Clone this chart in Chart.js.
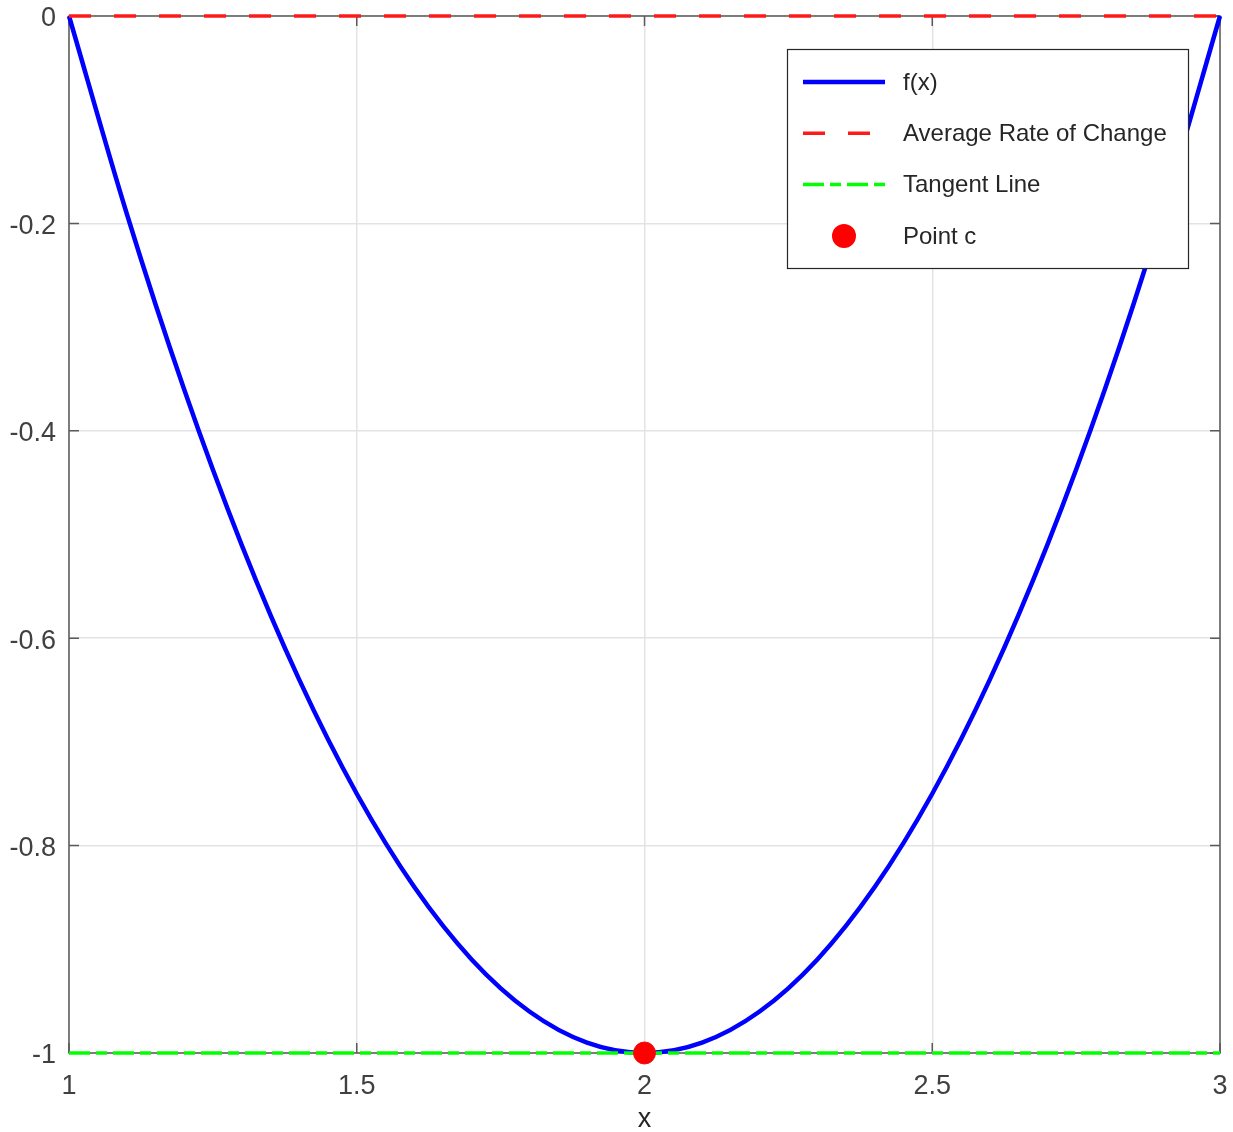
<!DOCTYPE html>
<html>
<head>
<meta charset="utf-8">
<title>f(x) with average rate of change and tangent line</title>
<script src="https://cdn.jsdelivr.net/npm/chart.js@4"></script>
<style>
  html, body { margin: 0; padding: 0; background: #fff; }
  canvas { display: block; }
</style>
</head>
<body>
<canvas id="plot" width="1233" height="1132"></canvas>
<script>
// values
const xValues = [1.0, 1.1, 1.2, 1.3, 1.4, 1.5, 1.6, 1.7, 1.8, 1.9, 2.0,
                 2.1, 2.2, 2.3, 2.4, 2.5, 2.6, 2.7, 2.8, 2.9, 3.0];
const fValues = [0, -0.19, -0.36, -0.51, -0.64, -0.75, -0.84, -0.91, -0.96, -0.99, -1,
                 -0.99, -0.96, -0.91, -0.84, -0.75, -0.64, -0.51, -0.36, -0.19, 0];

const avgX = [1, 3];
const avgY = [0, 0];

const tanX = [1, 3];
const tanY = [-1, -1];

const pointX = [2];
const pointY = [-1];

const xTicks = [1, 1.5, 2, 2.5, 3];
const yTicks = [0, -0.2, -0.4, -0.6, -0.8, -1];

const labels = ['f(x)', 'Average Rate of Change', 'Tangent Line', 'Point c'];

const FONT = "'Liberation Sans', Arial, Helvetica, sans-serif";
const TEXT = '#262626';
const AXIS = '#5a5a5a';

function pairs(xs, ys) {
  return xs.map((x, i) => ({ x: x, y: ys[i] }));
}

//////////////////////////// box + inward ticks (drawn under the data) ////////////////////////////
const boxPlugin = {
  id: 'box',
  beforeDatasetsDraw(chart) {
    const { ctx, chartArea: a, scales } = chart;
    const len = 10;
    ctx.save();
    ctx.strokeStyle = AXIS;
    ctx.lineWidth = 1.5;
    ctx.strokeRect(a.left, a.top, a.right - a.left, a.bottom - a.top);
    ctx.beginPath();
    xTicks.forEach(v => {
      const px = scales.x.getPixelForValue(v);
      ctx.moveTo(px, a.bottom); ctx.lineTo(px, a.bottom - len);
      ctx.moveTo(px, a.top); ctx.lineTo(px, a.top + len);
    });
    yTicks.forEach(v => {
      const py = scales.y.getPixelForValue(v);
      ctx.moveTo(a.left, py); ctx.lineTo(a.left + len, py);
      ctx.moveTo(a.right, py); ctx.lineTo(a.right - len, py);
    });
    ctx.stroke();
    ctx.restore();
  }
};

//////////////////////////// legend box in the upper right ////////////////////////////
const legendPlugin = {
  id: 'boxLegend',
  afterDraw(chart) {
    const ctx = chart.ctx;
    const left = 787, top = 49, w = 401, h = 219;
    const rowH = 51.3, firstRow = top + 33;
    const lineX0 = left + 16, lineX1 = left + 98, textX = left + 116;
    ctx.save();
    ctx.fillStyle = '#fff';
    ctx.fillRect(left, top, w, h);
    ctx.strokeStyle = TEXT;
    ctx.lineWidth = 1.2;
    ctx.strokeRect(left + 0.5, top + 0.5, w, h);
    chart.data.datasets.forEach((ds, i) => {
      const y = firstRow + i * rowH;
      if (ds.showLine === false) {
        ctx.beginPath();
        ctx.fillStyle = ds.pointBackgroundColor;
        ctx.arc((lineX0 + lineX1) / 2, y, 12, 0, Math.PI * 2);
        ctx.fill();
      } else {
        ctx.beginPath();
        ctx.strokeStyle = ds.borderColor;
        ctx.lineWidth = ds.borderWidth;
        ctx.setLineDash(ds.borderDash || []);
        ctx.moveTo(lineX0, y);
        ctx.lineTo(lineX1, y);
        ctx.stroke();
        ctx.setLineDash([]);
      }
      ctx.fillStyle = TEXT;
      ctx.font = '24px ' + FONT;
      ctx.textAlign = 'left';
      ctx.textBaseline = 'middle';
      ctx.fillText(ds.label, textX, y + 1);
    });
    ctx.restore();
  }
};

new Chart(document.getElementById('plot'), {
  type: 'line',
  data: {
    datasets: [
      {
        label: labels[0],
        data: pairs(xValues, fValues),
        borderColor: '#0000ff',
        borderWidth: 4.5,
        pointRadius: 0,
        cubicInterpolationMode: 'monotone',
        fill: false,
        clip: false,
        order: 3,
      },
      {
        label: labels[1],
        data: pairs(avgX, avgY),
        borderColor: '#ff1a1a',
        borderWidth: 3.5,
        borderDash: [22, 23],
        pointRadius: 0,
        fill: false,
        clip: false,
        order: 2,
      },
      {
        label: labels[2],
        data: pairs(tanX, tanY),
        borderColor: '#00ff00',
        borderWidth: 3.5,
        borderDash: [21, 6, 11, 6],
        pointRadius: 0,
        fill: false,
        clip: false,
        order: 1,
      },
      {
        label: labels[3],
        data: pairs(pointX, pointY),
        showLine: false,
        pointRadius: 11,
        pointBackgroundColor: '#ff0000',
        pointBorderColor: '#ee1111',
        pointBorderWidth: 1,
        clip: false,
        order: 0,
      }
    ]
  },
  options: {
    responsive: false,
    animation: false,
    events: [],
    layout: { padding: { top: 16, right: 13, left: 0, bottom: 0 } },
    plugins: {
      legend: { display: false },
      tooltip: { enabled: false },
    },
    scales: {
      x: {
        type: 'linear',
        min: 1,
        max: 3,
        afterFit(scale) {
          scale.height = 79;
          scale.paddingLeft = 0;
          scale.paddingRight = 0;
        },
        afterBuildTicks(scale) { scale.ticks = xTicks.map(v => ({ value: v })); },
        grid: { color: '#e3e3e3', lineWidth: 1.5, drawTicks: false },
        border: { display: false },
        ticks: {
          padding: 17,
          maxRotation: 0,
          color: '#404040',
          font: { family: FONT, size: 27 },
          callback: v => String(+v.toFixed(1)),
        },
        title: {
          display: true,
          text: 'x',
          color: TEXT,
          padding: 0,
          font: { family: FONT, size: 27, lineHeight: 0.9 },
        },
      },
      y: {
        type: 'linear',
        min: -1,
        max: 0,
        afterFit(scale) {
          scale.width = 69;
          scale.paddingTop = 0;
          scale.paddingBottom = 0;
        },
        afterBuildTicks(scale) { scale.ticks = yTicks.map(v => ({ value: v })); },
        grid: { color: '#e3e3e3', lineWidth: 1.5, drawTicks: false },
        border: { display: false },
        ticks: {
          padding: 13,
          labelOffset: 3,
          color: '#404040',
          font: { family: FONT, size: 27 },
          callback: v => String(+v.toFixed(1)),
        },
      },
    },
  },
  plugins: [boxPlugin, legendPlugin],
});
</script>
</body>
</html>
